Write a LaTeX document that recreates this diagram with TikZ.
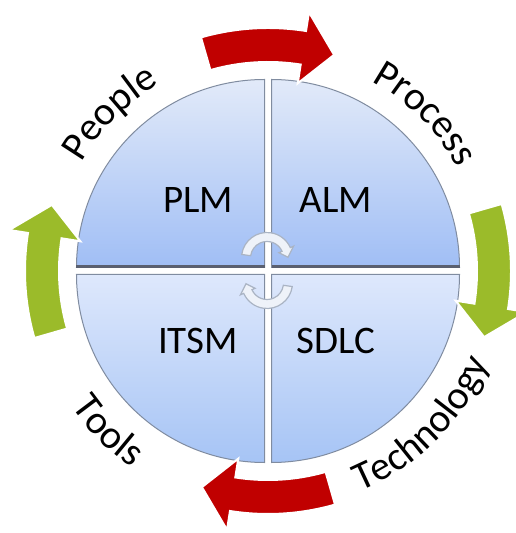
\documentclass[tikz,border=0pt]{standalone}
\usepackage{fontspec}
\newfontfamily\labelfont{Carlito}
\usepackage{tikz}
\usetikzlibrary{decorations.text}
\usepackage{xcolor}
\definecolor{upperlight}{RGB}{226,234,249}
\definecolor{upperdark}{RGB}{160,190,245}
\definecolor{lowerlight}{RGB}{222,232,252}
\definecolor{lowerdark}{RGB}{166,196,245}
\definecolor{quadedge}{RGB}{128,140,160}
\definecolor{sepdark}{RGB}{90,96,112}
\definecolor{loopred}{RGB}{192,0,0}
\definecolor{loopgreen}{RGB}{155,187,42}
\definecolor{cyclefill}{RGB}{238,242,249}
\definecolor{cycleedge}{RGB}{170,180,196}

% curved block arrow: radius, tail angle, head angle, tip angle, half width, head half width
\newcommand\bentarrow[6]{({#2}:{#1+#5}) arc[start angle=#2, end angle=#3, radius=#1+#5]
    -- ({#3}:{#1+#6}) -- ({#4}:{#1}) -- ({#3}:{#1-#6}) -- ({#3}:{#1-#5})
    arc[start angle=#3, end angle=#2, radius=#1-#5] -- cycle}

\begin{document}
\begin{tikzpicture}[
    x=0.5pt, y=0.5pt,
    quarter/.style={draw=quadedge, line width=0.5pt},
    upperq/.style={quarter, top color=upperlight, bottom color=upperdark},
    lowerq/.style={quarter, top color=lowerlight, bottom color=lowerdark},
    quadlabel/.style={font=\labelfont\fontsize{19.5}{22}\selectfont, text=black},
    ringtext/.style={decorate, decoration={text along path, text align=center,
        text={|\labelfont\fontsize{20}{22}\selectfont|#1}}},
    cycler/.style={fill=cyclefill, draw=cycleedge, line width=0.6pt},
]
    \useasboundingbox (-268,-262) rectangle (247,271);

    % four quarters of the disc
    \path[upperq, shift={(-3.5,3.5)}] (0,0) -- (180:188) arc[start angle=180, end angle=90, radius=188] -- cycle;
    \path[upperq, shift={(3.5,3.5)}] (0,0) -- (90:188) arc[start angle=90, end angle=0, radius=188] -- cycle;
    \path[lowerq, shift={(-3.5,-3.5)}] (0,0) -- (270:188) arc[start angle=270, end angle=180, radius=188] -- cycle;
    \path[lowerq, shift={(3.5,-3.5)}] (0,0) -- (0:188) arc[start angle=0, end angle=-90, radius=188] -- cycle;
    \draw[sepdark, line width=1.5pt] (-191.5,4.2) -- (-3.5,4.2);
    \draw[sepdark, line width=1.5pt] (3.5,4.2) -- (191.5,4.2);

    \node[quadlabel] (plm) at (-70,71) {PLM};
    \node[quadlabel] (alm) at (68,71) {ALM};
    \node[quadlabel] (itsm) at (-70,-70) {ITSM};
    \node[quadlabel] (sdlc) at (68,-70) {SDLC};

    % small cycle in the middle
    \path[cycler, shift={(-1,13)}] \bentarrow{21}{172}{24}{2}{4.5}{8};
    \path[cycler, shift={(-1,-12)}] \bentarrow{21}{-8}{-156}{-178}{4.5}{8};

    % outer loop arrows
    \foreach \rot/\col in {0/loopred, 90/loopgreen, 180/loopred, 270/loopgreen}
        \path[fill=\col, draw=white, line width=1pt, rotate=\rot] \bentarrow{226}{106}{81}{73}{17}{36};

    % ring labels
    \path[ringtext=People] (165:216) arc[start angle=165, end angle=105, radius=216];
    \path[ringtext=Process] (75:216) arc[start angle=75, end angle=15, radius=216];
    \path[ringtext=Tools] (190:239) arc[start angle=190, end angle=260, radius=239];
    \path[ringtext=Technology] (270:239) arc[start angle=270, end angle=360, radius=239];
\end{tikzpicture}
\end{document}
